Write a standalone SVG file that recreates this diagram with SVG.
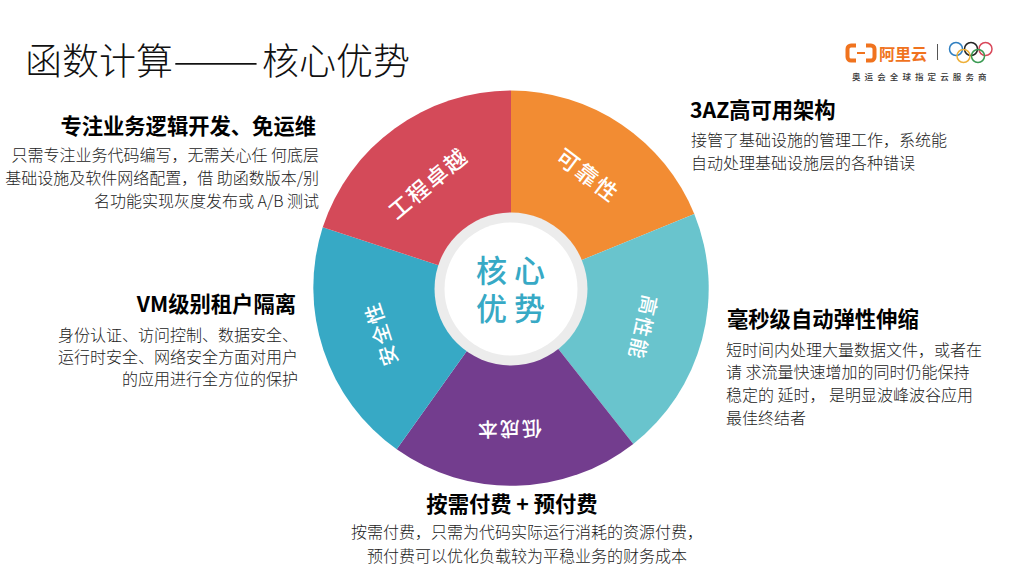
<svg xmlns="http://www.w3.org/2000/svg" width="1024" height="576" viewBox="0 0 1024 576">
<style>
text{font-family:"Noto Sans CJK SC","Liberation Sans",sans-serif}
.h{font-size:21.300px;font-weight:700;fill:#000}
.b{font-size:16px;font-weight:300;fill:#222}
.e{text-anchor:end}
.w{font-size:21px;font-weight:500;fill:#fff;text-anchor:middle;letter-spacing:2px;dominant-baseline:central}
.c{font-size:31px;fill:#37a9c5;font-weight:500;text-anchor:middle;letter-spacing:7px}
.ring{fill:none;stroke-width:1.500}
</style>
<rect width="1024" height="576" fill="#fff"/>
<g id="title"><text x="25" y="75" font-size="37" font-weight="300" fill="#111">函数计算<tspan font-size="52" font-weight="100" dy="3">——</tspan><tspan x="262" dy="-3">核心优势</tspan></text></g>
<g id="logo">
<path d="M856 45.500h-5a3.500 3.500 0 0 0-3.500 3.500v8a3.500 3.500 0 0 0 3.500 3.500h5M866 45.500h5a3.500 3.500 0 0 1 3.500 3.500v8a3.500 3.500 0 0 1-3.500 3.500h-5" fill="none" stroke="#f0731e" stroke-width="4"/>
<rect x="857" y="52" width="8" height="2" fill="#f0731e"/>
<text x="879" y="60" font-size="16" font-weight="700" fill="#f0731e">阿里云</text>
<rect x="937" y="44" width="1" height="16" fill="#555"/>
<circle class="ring" cx="956" cy="49" r="6.500" stroke="#2f7fc1"/>
<circle class="ring" cx="971" cy="49" r="6.500" stroke="#222"/>
<circle class="ring" cx="985.500" cy="49" r="6.500" stroke="#d9485a"/>
<circle class="ring" cx="963.500" cy="56" r="6.500" stroke="#eeb03a"/>
<circle class="ring" cx="978" cy="56" r="6.500" stroke="#3a9a52"/>
<text x="852" y="80" font-size="8.500" font-weight="500" letter-spacing="4.100" fill="#333">奥运会全球指定云服务商</text>
</g>
<g id="wheel">
<g id="seg-reliability"><path d="M511 289V90.500A198.500 198.500 0 0 1 694.300 214Z" fill="#f28c33"/><text class="w" style="font-size:22px" transform="translate(589 174) rotate(37)">可靠性</text></g>
<g id="seg-performance"><path d="M511 289L694.300 214A198.500 198.500 0 0 1 633.300 444Z" fill="#69c4cd"/><text class="w" style="font-size:20px" transform="translate(644 328) rotate(103)">高性能</text></g>
<g id="seg-cost"><path d="M511 289L633.300 444A198.500 198.500 0 0 1 396.700 449.300Z" fill="#733d8e"/><text class="w" style="font-size:20px" transform="translate(509 430) rotate(179)">低成本</text></g>
<g id="seg-security"><path d="M511 289L396.700 449.300A198.500 198.500 0 0 1 322.700 227.300Z" fill="#37a9c5"/><text class="w" style="font-size:20px" transform="translate(380 334) rotate(-108)">安全性</text></g>
<g id="seg-engineering"><path d="M511 289L322.700 227.300A198.500 198.500 0 0 1 511 90.500Z" fill="#d44a59"/><text class="w" style="font-size:22px" transform="translate(427 182) rotate(-40)">工程卓越</text></g>
<g id="core"><circle cx="511" cy="289" r="76.500" fill="#ececec"/><circle cx="511" cy="289" r="66.500" fill="#fff"/>
<text class="c"><tspan x="514" y="282">核心</tspan><tspan x="514" y="320">优势</tspan></text></g>
</g>
<g id="t-engineering"><text class="h e" x="316" y="134">专注业务逻辑开发、免运维</text>
<text class="b e" x="319" y="161">只需专注业务代码编写&#xFF0C;无需关心任 何底层</text>
<text class="b e" x="319" y="184">基础设施及软件网络配置&#xFF0C;借 助函数版本/别</text>
<text class="b e" x="319" y="207">名功能实现灰度发布或 A/B 测试</text></g>
<g id="t-security"><text class="h e" x="296" y="312">VM级别租户隔离</text>
<text class="b e" x="298" y="341">身份认证、访问控制、数据安全、</text>
<text class="b e" x="298" y="363">运行时安全、网络安全方面对用户</text>
<text class="b e" x="298" y="385">的应用进行全方位的保护</text></g>
<g id="t-reliability"><text class="h" x="690" y="118">3AZ高可用架构</text>
<text class="b" x="691" y="146">接管了基础设施的管理工作&#xFF0C;系统能</text>
<text class="b" x="691" y="169">自动处理基础设施层的各种错误</text></g>
<g id="t-performance"><text class="h" x="727" y="327">毫秒级自动弹性伸缩</text>
<text class="b" x="726" y="356">短时间内处理大量数据文件&#xFF0C;或者在</text>
<text class="b" x="726" y="378">请 求流量快速增加的同时仍能保持</text>
<text class="b" x="726" y="401">稳定的 延时&#xFF0C; 是明显波峰波谷应用</text>
<text class="b" x="726" y="424">最佳终结者</text></g>
<g id="t-cost"><text class="h" x="512" y="512" text-anchor="middle">按需付费 + 预付费</text>
<text class="b" x="351" y="538">按需付费&#xFF0C;只需为代码实际运行消耗的资源付费&#xFF0C;</text>
<text class="b" x="367" y="562">预付费可以优化负载较为平稳业务的财务成本</text></g>
</svg>
